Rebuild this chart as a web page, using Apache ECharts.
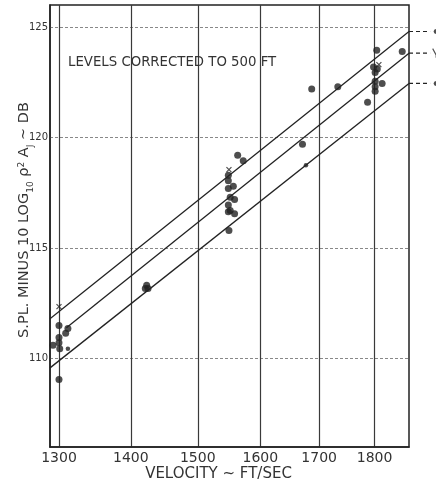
<!DOCTYPE html>
<html>
<head>
<meta charset="utf-8">
<script src="https://cdn.jsdelivr.net/npm/echarts@6/dist/echarts.min.js"></script>
<style>html,body{margin:0;padding:0;background:#fff;}#c{width:436px;height:488px;}</style>
</head>
<body>
<div id="c"></div>
<script>
// ---- data ----
var xTicks = [1300, 1400, 1500, 1600, 1700, 1800];
var yTicks = [110, 115, 120, 125];
var dots = [
  [1300,111.5],[1312,111.36],[1309,111.15],[1300,110.95],[1300,110.72],[1292,110.6],[1301,110.45],[1300,109.05],
  [1421,113.17],[1425,113.17],[1423,113.32],
  [1563,119.2],[1572,118.95],[1548,118.3],[1548,118.05],[1556,117.8],[1548,117.7],[1551,117.3],[1558,117.2],
  [1548,116.95],[1551,116.7],[1558,116.55],[1548,116.65],[1549,115.8],
  [1687,122.2],[1733,122.3],[1671,119.7],
  [1804,123.95],[1852,123.9],[1798,123.2],[1805,123.1],[1801,122.95],[1801,122.55],[1801,122.3],[1814,122.45],[1801,122.1],[1787,121.6]
];
var smallDots = [[1312,110.45],[1677,118.75]];
var crosses = [[1300,112.35],[1549,118.55],[1808,123.3]];
var upperLine = [[1288,111.8],[1865,124.8]];
var middleLine = [[1310,111.4],[1865,123.82]];
var lowerLine = [[1288,109.58],[1865,122.45]];
var keyX = [1865, 1906];
var keyMarkX = 1918;
var keyLevels = [124.8, 123.82, 122.45];

var ink = '#222';
var txt = '#333';
var font = 'DejaVu Sans';
var crossPath = 'path://M0,0L10,10M10,0L0,10';

function lineSeries(d) {
  return {type:'line', data:d, symbol:'none', silent:true,
    lineStyle:{color:ink, width:1.3}, z:3};
}
var series = [lineSeries(upperLine), lineSeries(middleLine), lineSeries(lowerLine)];
series.push({type:'custom', clip:false, silent:true,
  data:keyLevels.map(function(v){return [keyX[0], v, keyX[1]];}),
  renderItem:function(params, api){
    var p0 = api.coord([api.value(0), api.value(1)]);
    var p1 = api.coord([api.value(2), api.value(1)]);
    return {type:'line', shape:{x1:p0[0], y1:p0[1], x2:p1[0], y2:p1[1]},
      style:{stroke:ink, lineWidth:1.2, lineDash:[4,3]}};
  }});
series.push({type:'scatter', data:[[keyMarkX,keyLevels[0]],[keyMarkX,keyLevels[2]]], clip:false,
  symbol:'circle', symbolSize:5, itemStyle:{color:ink}});
series.push({type:'scatter', data:[[keyMarkX,keyLevels[1]]], clip:false,
  symbol:'path://M0,0L5,10L10,0M5,10L5,14', symbolSize:[7,9], itemStyle:{color:'none', borderColor:ink, borderWidth:1.3}});
series.push({type:'scatter', data:dots, symbol:'circle', symbolSize:7, itemStyle:{color:ink}, z:4});
series.push({type:'scatter', data:smallDots, symbol:'circle', symbolSize:4.5, itemStyle:{color:ink}, z:4});
series.push({type:'scatter', data:crosses, symbol:crossPath, symbolSize:5,
  itemStyle:{color:'none', borderColor:ink, borderWidth:1.2}, z:4});

var chart = echarts.init(document.getElementById('c'), null, {renderer:'canvas'});
chart.setOption({
  backgroundColor:'#fff',
  animation:false,
  textStyle:{fontFamily:font},
  title:{text:'LEVELS CORRECTED TO 500 FT', left:63, top:51,
    textStyle:{fontFamily:font, fontSize:13.3, fontWeight:'normal', color:txt}},
  grid:{left:50, right:27, top:5, bottom:41, show:true, borderColor:ink, borderWidth:1.5,
    containLabel:false, outerBoundsMode:'none'},
  xAxis:{type:'log', logBase:10, min:1288, max:1865,
    name:'VELOCITY ~ FT/SEC', nameLocation:'middle', nameGap:20, nameMoveOverlap:false,
    nameTextStyle:{fontFamily:font, fontSize:15, color:txt, padding:[0,22,0,0]},
    axisLine:{show:true, lineStyle:{color:ink, width:1.5}},
    axisTick:{show:false, customValues:xTicks},
    axisLabel:{customValues:xTicks, fontFamily:font, fontSize:14, color:txt, margin:4,
      formatter:function(v){return String(Math.round(v));}},
    splitLine:{show:true, lineStyle:{color:'#3a3a3a', width:1.2, type:'solid'}},
    minorSplitLine:{show:false}
  },
  yAxis:{type:'value', min:106, max:126,
    name:'{n|S.PL. MINUS 10 LOG}{s|10}{n| ρ}{p|2}{n| A}{s|J}{n| ~ DB}', nameLocation:'middle', nameGap:18,
    nameRotate:90, nameMoveOverlap:false,
    nameTextStyle:{fontFamily:font, fontSize:14.5, color:txt, padding:[0,0,0,12],
      rich:{n:{fontFamily:font, fontSize:14.5, color:txt},
            s:{fontFamily:font, fontSize:9, color:txt, verticalAlign:'bottom', padding:[0,0,-3,0]},
            p:{fontFamily:font, fontSize:9, color:txt, verticalAlign:'top'}}},
    axisLine:{show:true, lineStyle:{color:ink, width:1.5}},
    axisTick:{show:false, customValues:yTicks},
    axisLabel:{customValues:yTicks, fontFamily:font, fontSize:10, color:txt, margin:2},
    splitLine:{show:true, lineStyle:{color:'#888', width:1, type:[3,2]}}
  },
  series:series
});
</script>
</body>
</html>
